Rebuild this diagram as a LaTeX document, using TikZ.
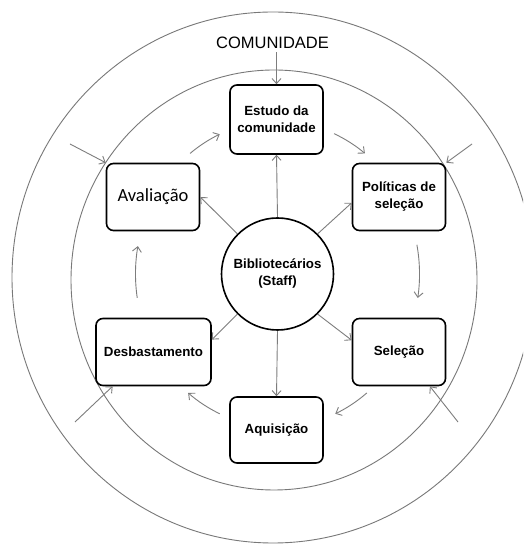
\documentclass[tikz,border=0pt]{standalone}
\usepackage{fontspec}
\setmainfont{Liberation Sans}
\newfontfamily\carlito{Carlito}
\usetikzlibrary{arrows.meta,calc}
\definecolor{ringgray}{RGB}{120,120,120}
\definecolor{arrgray}{RGB}{125,125,125}
\begin{document}
\begin{tikzpicture}[x=1pt,y=1pt,
  box/.style={draw=black,line width=1.6pt,rounded corners=7pt,fill=white,
    minimum width=93pt,minimum height=67pt,align=center,inner sep=2pt,
    font=\fontsize{13.3}{17}\selectfont\bfseries},
  hub/.style={draw=black,line width=1.6pt,circle,fill=white,minimum size=112pt,
    align=center,inner sep=0pt,font=\fontsize{13.3}{17}\selectfont\bfseries},
  ring/.style={draw=ringgray,line width=0.9pt},
  arr/.style={draw=arrgray,line width=0.9pt,-{Straight Barb[length=5pt,width=9pt]}}]
\useasboundingbox (0,0) rectangle (523,545);
\clip (0,0) rectangle (523,545);
\fill[white] (0,0) rectangle (523,545);
% rings
\draw[ring] (273,267.5) ellipse [x radius=261pt, y radius=265.5pt];
\draw[ring] (274,265) ellipse [x radius=203pt, y radius=210pt];
% label
\node[font=\fontsize{16.5}{20}\selectfont] (com) at (272.5,502) {COMUNIDADE};
% nodes
\node[hub] (bib) at (277.5,271) {Bibliotecários\\(Staff)};
\node[box,minimum height=69pt] (est) at (276.5,425.5) {Estudo da\\comunidade};
\node[box,font=\carlito\fontsize{18.5}{22}\selectfont] (ava) at (153,348) {Avaliação};
\node[box] (pol) at (399,348) {Políticas de\\seleção};
\node[box,minimum width=115pt] (des) at (153.5,193) {Desbastamento};
\node[box] (sel) at (399,193) {Seleção};
\node[box,minimum height=66pt] (aq) at (276.5,115) {Aquisição};
% community arrow
\draw[arr] (est.north |- com.south) -- (est.north);
% hub to boxes
\draw[arr] (bib.north) -- (est.south);
\draw[arr] (bib.south) -- (aq.north);
\draw[arr] (bib.135) -- (ava.east);
\draw[arr] (bib.45) -- (pol.187);
\draw[arr] (bib.-45) -- (sel.166);
\draw[arr] (bib.-135) -- (des.12);
% cycle arcs
\coordinate (c1) at ($(bib)+(189:142pt and 153pt)$);
\coordinate (c2) at ($(bib)+(128:142pt and 153pt)$);
\coordinate (c3) at ($(bib)+(66.5:142pt and 153pt)$);
\coordinate (c4) at ($(bib)+(11:142pt and 153pt)$);
\coordinate (c5) at ($(bib)+(-51:142pt and 153pt)$);
\coordinate (c6) at ($(bib)+(-114:142pt and 153pt)$);
\draw[arr] (c1) arc[start angle=189,end angle=169.5,x radius=142pt,y radius=153pt];
\draw[arr] (c2) arc[start angle=128,end angle=114,x radius=142pt,y radius=153pt];
\draw[arr] (c3) arc[start angle=66.5,end angle=52,x radius=142pt,y radius=153pt];
\draw[arr] (c4) arc[start angle=11,end angle=-9,x radius=142pt,y radius=153pt];
\draw[arr] (c5) arc[start angle=-51,end angle=-66,x radius=142pt,y radius=153pt];
\draw[arr] (c6) arc[start angle=-114,end angle=-129,x radius=142pt,y radius=153pt];
% outer inward arrows
\coordinate (otl) at (70,401);
\coordinate (otr) at (472,401);
\coordinate (obl) at (75,123);
\coordinate (obr) at (458,123);
\draw[arr] (otl) -- (ava.north west);
\draw[arr] (otr) -- (pol.north east);
\draw[arr] (obl) -- (des.220);
\draw[arr] (obr) -- (sel.-48);
\end{tikzpicture}
\end{document}
